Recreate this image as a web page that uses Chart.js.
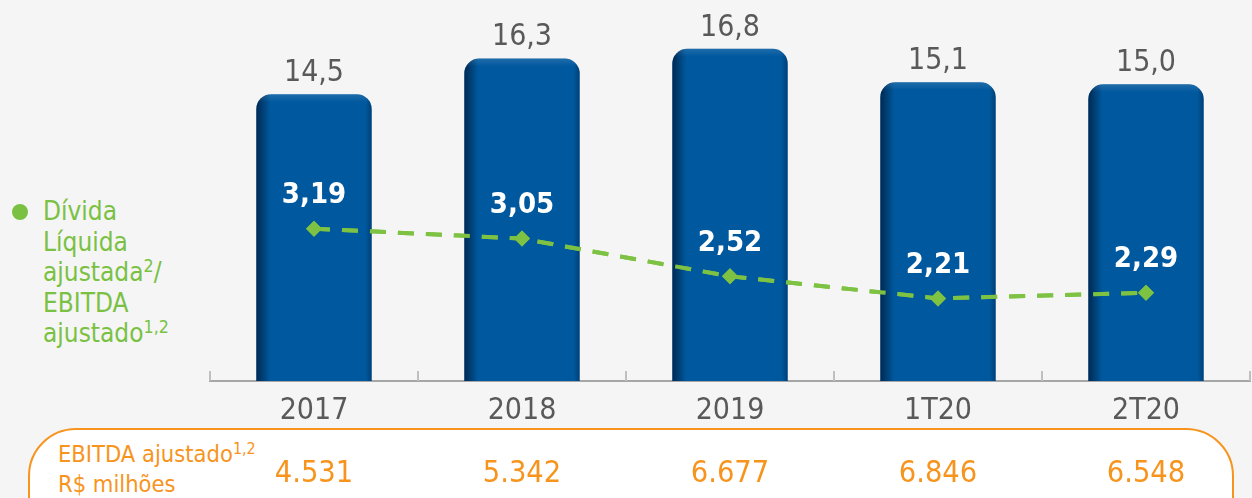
<!DOCTYPE html>
<html lang="pt">
<head>
<meta charset="UTF-8">
<script src="https://cdn.jsdelivr.net/npm/chart.js"></script>
<title>Dívida Líquida / EBITDA</title>
<style>
  html, body { margin: 0; padding: 0; width: 1252px; height: 498px; overflow: hidden; background: #f5f5f5; font-family: "DejaVu Sans Condensed", "DejaVu Sans", sans-serif; }
  #box { position: absolute; left: 28px; top: 428px; width: 1206px; height: 130px; border: 2.5px solid #f7941d; border-radius: 48px; background: #fff; box-sizing: border-box; }
  #boxText { position: absolute; left: 28px; top: 9px; color: #f7941d; font-size: 23.5px; line-height: 30px; }
  #legend { position: absolute; left: 12px; top: 196px; color: #7ac143; font-size: 26px; line-height: 30.5px; }
  #legend .dot { position: absolute; left: 0; top: 8px; width: 16px; height: 16px; border-radius: 50%; background: #7ac143; }
  #legend .txt { margin-left: 31px; }
  sup { font-size: 0.68em; vertical-align: 0.5em; line-height: 0; }
  canvas { position: absolute; left: 0; top: 0; }
</style>
</head>
<body>
<div id="box"><div id="boxText">EBITDA ajustado<sup>1,2</sup><br>R$ milhões</div></div>
<div id="legend"><span class="dot"></span><div class="txt">Dívida<br>Líquida<br>ajustada<sup>2</sup>/<br>EBITDA<br>ajustado<sup>1,2</sup></div></div>
<canvas id="myChart" width="1258" height="498"></canvas>

<script>
  const labels = ['2017', '2018', '2019', '1T20', '2T20'];
  const dividaBruta = [14.5, 16.3, 16.8, 15.1, 15.0];
  const alavancagem = [3.19, 3.05, 2.52, 2.21, 2.29];
  const ebitda = ['4.531', '5.342', '6.677', '6.846', '6.548'];

  const fmt = v => v.toFixed(v < 10 ? 2 : 1).replace('.', ',');
  const FONT = '"DejaVu Sans Condensed", "DejaVu Sans", sans-serif';
  const RADIUS = 15;

  // dark edges on each bar + small tick marks + data labels + EBITDA row
  const extras = {
    id: 'extras',
    afterDatasetsDraw(chart) {
      const ctx = chart.ctx;
      const x = chart.scales.x;
      const area = chart.chartArea;

      const bars = chart.getDatasetMeta(0).data;
      bars.forEach(b => {
        const left = b.x - b.width / 2;
        const right = b.x + b.width / 2;
        ctx.save();
        ctx.beginPath();
        ctx.roundRect(left, b.y, b.width, b.base - b.y, [RADIUS, RADIUS, 0, 0]);
        ctx.clip();
        let g = ctx.createLinearGradient(left, 0, left + 14, 0);
        g.addColorStop(0, 'rgba(0,25,55,0.75)');
        g.addColorStop(1, 'rgba(0,25,55,0)');
        ctx.fillStyle = g;
        ctx.fillRect(left, b.y, 14, b.base - b.y);
        g = ctx.createLinearGradient(right, 0, right - 6, 0);
        g.addColorStop(0, 'rgba(0,25,55,0.4)');
        g.addColorStop(1, 'rgba(0,25,55,0)');
        ctx.fillStyle = g;
        ctx.fillRect(right - 6, b.y, 6, b.base - b.y);
        g = ctx.createLinearGradient(0, b.y, 0, b.y + 8);
        g.addColorStop(0, 'rgba(255,255,255,0.12)');
        g.addColorStop(1, 'rgba(255,255,255,0)');
        ctx.fillStyle = g;
        ctx.fillRect(left, b.y, b.width, 8);
        ctx.restore();
      });

      // redraw the line over the shading
      chart.getDatasetMeta(1).controller.draw();

      ctx.save();
      ctx.strokeStyle = '#bfbfbf';
      ctx.lineWidth = 2;
      const step = x.getPixelForValue(1) - x.getPixelForValue(0);
      for (let i = 0; i <= labels.length; i++) {
        const px = Math.round(x.getPixelForValue(i) - step / 2);
        ctx.beginPath();
        ctx.moveTo(px, area.bottom);
        ctx.lineTo(px, area.bottom - 10);
        ctx.stroke();
      }

      ctx.textAlign = 'center';
      ctx.textBaseline = 'bottom';
      ctx.fillStyle = '#595959';
      ctx.font = '30px ' + FONT;
      bars.forEach((b, i) => ctx.fillText(fmt(dividaBruta[i]), b.x, b.y - 6));

      ctx.textBaseline = 'middle';
      ctx.fillStyle = '#ffffff';
      ctx.font = 'bold 29px ' + FONT;
      chart.getDatasetMeta(1).data.forEach((p, i) => ctx.fillText(fmt(alavancagem[i]), p.x, p.y - 33));

      ctx.fillStyle = '#f7941d';
      ctx.font = '30.5px ' + FONT;
      ebitda.forEach((v, i) => ctx.fillText(v, x.getPixelForValue(i), 474));
      ctx.restore();
    }
  };

  const ctx = document.getElementById('myChart').getContext('2d');
  new Chart(ctx, {
    data: {
      labels: labels,
      datasets: [
        {
          type: 'bar',
          data: dividaBruta,
          yAxisID: 'y',
          backgroundColor: '#00589e',
          borderRadius: { topLeft: RADIUS, topRight: RADIUS },
          borderSkipped: 'bottom',
          categoryPercentage: 1,
          barPercentage: 0.555,
          order: 1
        },
        {
          type: 'line',
          data: alavancagem,
          yAxisID: 'y1',
          borderColor: '#7dc242',
          borderWidth: 4,
          borderDash: [16, 12],
          pointStyle: 'rectRot',
          pointRadius: 8,
          pointBackgroundColor: '#7dc242',
          pointBorderWidth: 0,
          tension: 0,
          order: 0
        }
      ]
    },
    options: {
      responsive: false,
      animation: false,
      events: [],
      layout: { padding: { left: 210, right: 0, top: 25, bottom: 57 } },
      plugins: { legend: { display: false }, tooltip: { enabled: false } },
      scales: {
        x: {
          grid: { display: false, drawTicks: false },
          border: { display: true, color: '#a6a6a6', width: 2 },
          ticks: { color: '#595959', padding: 12, font: { family: FONT, size: 30 } }
        },
        y: { display: false, min: 0, max: 18 },
        y1: { display: false, min: 1.05, max: 6.05 }
      }
    },
    plugins: [extras]
  });
</script>
</body>
</html>
